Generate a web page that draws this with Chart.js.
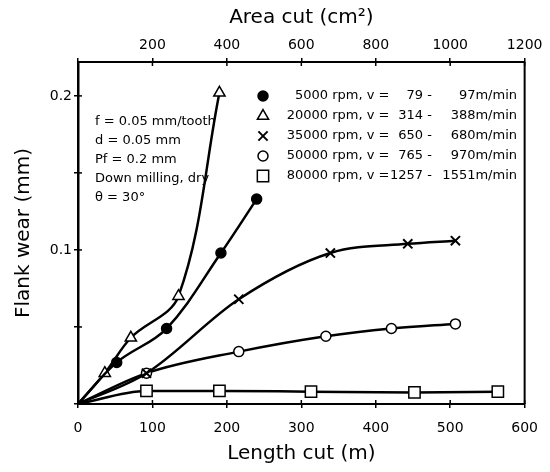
<!DOCTYPE html>
<html>
<head>
<meta charset="utf-8">
<script src="https://cdn.jsdelivr.net/npm/chart.js@4.4.1/dist/chart.umd.min.js"></script>
<style>
  html, body { margin: 0; padding: 0; background: #fff; }
  canvas { display: block; }
</style>
</head>
<body>
<canvas id="wearChart" width="550" height="472"></canvas>
<script>
// spindle speeds and cutting speed ranges
const rpmLabels = ["5000", "20000", "35000", "50000", "80000"];
const speedLow = ["79", "314", "650", "765", "1257"];
const speedHigh = ["97", "388", "680", "970", "1551"];

// length cut (m) / flank wear (mm) for each speed
const len5000 = [52, 119, 192, 240];
const wear5000 = [0.027, 0.049, 0.098, 0.133];
const len20000 = [36, 71, 135, 190];
const wear20000 = [0.02, 0.043, 0.07, 0.202];
const len35000 = [92, 216, 339, 443, 507];
const wear35000 = [0.02, 0.068, 0.098, 0.104, 0.106];
const len50000 = [92, 216, 333, 421, 507];
const wear50000 = [0.02, 0.034, 0.044, 0.049, 0.052];
const len80000 = [92, 190, 313, 452, 564];
const wear80000 = [0.0085, 0.0085, 0.008, 0.0075, 0.008];

const wearTickLabels = [0.1, 0.2];
const noteLines = [
  "f = 0.05 mm/tooth",
  "d = 0.05 mm",
  "Pf = 0.2 mm",
  "Down milling, dry",
  "\u03b8 = 30\u00b0",
];

const FONT = "DejaVu Sans";
Chart.defaults.font.family = FONT;
Chart.defaults.color = "#000";

const markers = [
  { pointStyle: "circle", radius: 5, fill: "#000", borderWidth: 1.5 },
  { pointStyle: "triangle", radius: 6.5, fill: "#fff", borderWidth: 1.5 },
  { pointStyle: "crossRot", radius: 6.5, fill: "#fff", borderWidth: 2 },
  { pointStyle: "circle", radius: 5, fill: "#fff", borderWidth: 1.5 },
  { pointStyle: "rect", radius: 8, fill: "#fff", borderWidth: 1.5 },
];

// every curve starts at the origin; that point gets no marker
function curve(xs, ys, m, smooth) {
  const pts = [{ x: 0, y: 0 }];
  xs.forEach((x, i) => pts.push({ x: x, y: ys[i] }));
  return {
    data: pts,
    borderColor: "#000",
    borderWidth: 2.5,
    cubicInterpolationMode: smooth ? "default" : "monotone",
    tension: smooth ? 0.35 : 0.4,
    pointStyle: m.pointStyle,
    pointRadius: (c) => (c.dataIndex === 0 ? 0 : m.radius),
    pointBackgroundColor: m.fill,
    pointBorderColor: "#000",
    pointBorderWidth: m.borderWidth,
  };
}

function tickLine(ctx, x1, y1, x2, y2) {
  ctx.beginPath();
  ctx.moveTo(x1, y1);
  ctx.lineTo(x2, y2);
  ctx.stroke();
}

const frameAndNotes = {
  id: "frameAndNotes",
  beforeDatasetsDraw(chart) {
    const { ctx, chartArea: a, scales } = chart;
    ctx.save();
    ctx.strokeStyle = "#000";
    ctx.lineWidth = 1.5;
    // ticks reaching into the plot
    scales.x.ticks.forEach((t) => {
      const px = scales.x.getPixelForValue(t.value);
      tickLine(ctx, px, a.bottom, px, a.bottom - 4);
    });
    scales.x2.ticks.forEach((t) => {
      const px = scales.x2.getPixelForValue(t.value);
      tickLine(ctx, px, a.top, px, a.top + 4);
    });
    scales.y.ticks.forEach((t) => {
      const py = scales.y.getPixelForValue(t.value);
      tickLine(ctx, a.left, py, a.left + 4, py);
    });
    // right side of the box
    ctx.lineWidth = 2;
    tickLine(ctx, a.right, a.top, a.right, a.bottom);

    // cutting conditions
    ctx.fillStyle = "#000";
    ctx.font = "13px '" + FONT + "'";
    ctx.textAlign = "left";
    ctx.textBaseline = "middle";
    noteLines.forEach((s, i) => ctx.fillText(s, a.left + 17, a.top + 60 + i * 18.8));
    ctx.restore();
  },
  afterDatasetsDraw(chart) {
    const { ctx, chartArea: a } = chart;
    ctx.save();
    ctx.font = "13px '" + FONT + "'";
    ctx.textBaseline = "middle";
    rpmLabels.forEach((rpm, i) => {
      const y = a.top + 34 + i * 20;
      const m = markers[i];
      ctx.fillStyle = m.fill;
      ctx.strokeStyle = "#000";
      ctx.lineWidth = m.borderWidth;
      Chart.helpers.drawPoint(ctx, { pointStyle: m.pointStyle, radius: m.radius, rotation: 0, borderWidth: m.borderWidth }, a.left + 185, y);
      ctx.fillStyle = "#000";
      ctx.textAlign = "right";
      ctx.fillText(rpm, a.left + 250, y);
      ctx.textAlign = "left";
      ctx.fillText(" rpm, v =", a.left + 250, y);
      ctx.textAlign = "right";
      ctx.fillText(speedLow[i], a.left + 345, y);
      ctx.textAlign = "left";
      ctx.fillText(" -", a.left + 345, y);
      ctx.textAlign = "right";
      ctx.fillText(speedHigh[i] + "m/min", a.left + 439, y);
    });
    ctx.restore();
  },
};

const axisFont = { family: FONT, size: 14 };
const titleFont = { family: FONT, size: 20 };

new Chart("wearChart", {
  type: "line",
  data: {
    datasets: [
      curve(len5000, wear5000, markers[0], true),
      curve(len20000, wear20000, markers[1], true),
      curve(len35000, wear35000, markers[2], false),
      curve(len50000, wear50000, markers[3], false),
      curve(len80000, wear80000, markers[4], false),
    ],
  },
  options: {
    responsive: false,
    animation: false,
    devicePixelRatio: 1,
    layout: { padding: { top: 0, right: 18, bottom: 0, left: 0 } },
    plugins: {
      legend: { display: false },
      tooltip: { enabled: false },
    },
    scales: {
      x: {
        type: "linear",
        position: "bottom",
        min: 0,
        max: 600,
        ticks: { stepSize: 100, font: axisFont, padding: 12, maxRotation: 0 },
        grid: { drawOnChartArea: false, tickLength: 4, color: "#000", lineWidth: 1.5 },
        border: { color: "#000", width: 2 },
        title: { display: true, text: "Length cut (m)", font: titleFont, padding: { top: 2, bottom: 6 } },
        afterFit(s) { s.height = 68; },
      },
      x2: {
        type: "linear",
        position: "top",
        min: 0,
        max: 1200,
        ticks: { stepSize: 200, font: axisFont, padding: 4, maxRotation: 0,
          callback: (v) => (v === 0 ? "" : String(v)) },
        grid: { drawOnChartArea: false, tickLength: 4, color: "#000", lineWidth: 1.5 },
        border: { color: "#000", width: 2 },
        title: { display: true, text: "Area cut (cm\u00b2)", font: titleFont, padding: { top: 6, bottom: 4 } },
        afterFit(s) { s.height = 62; },
      },
      y: {
        min: 0,
        max: 0.222,
        ticks: { stepSize: 0.05, includeBounds: false, font: axisFont, padding: 2,
          callback: (v) => (wearTickLabels.some((w) => Math.abs(w - v) < 1e-6) ? String(v) : "") },
        grid: { drawOnChartArea: false, tickLength: 4, color: "#000", lineWidth: 1.5 },
        border: { color: "#000", width: 2.5 },
        title: { display: true, text: "Flank wear (mm)", font: titleFont, padding: { top: 12, bottom: 0 } },
        afterFit(s) { s.width = 78; },
      },
    },
  },
  plugins: [frameAndNotes],
});
</script>
</body>
</html>
